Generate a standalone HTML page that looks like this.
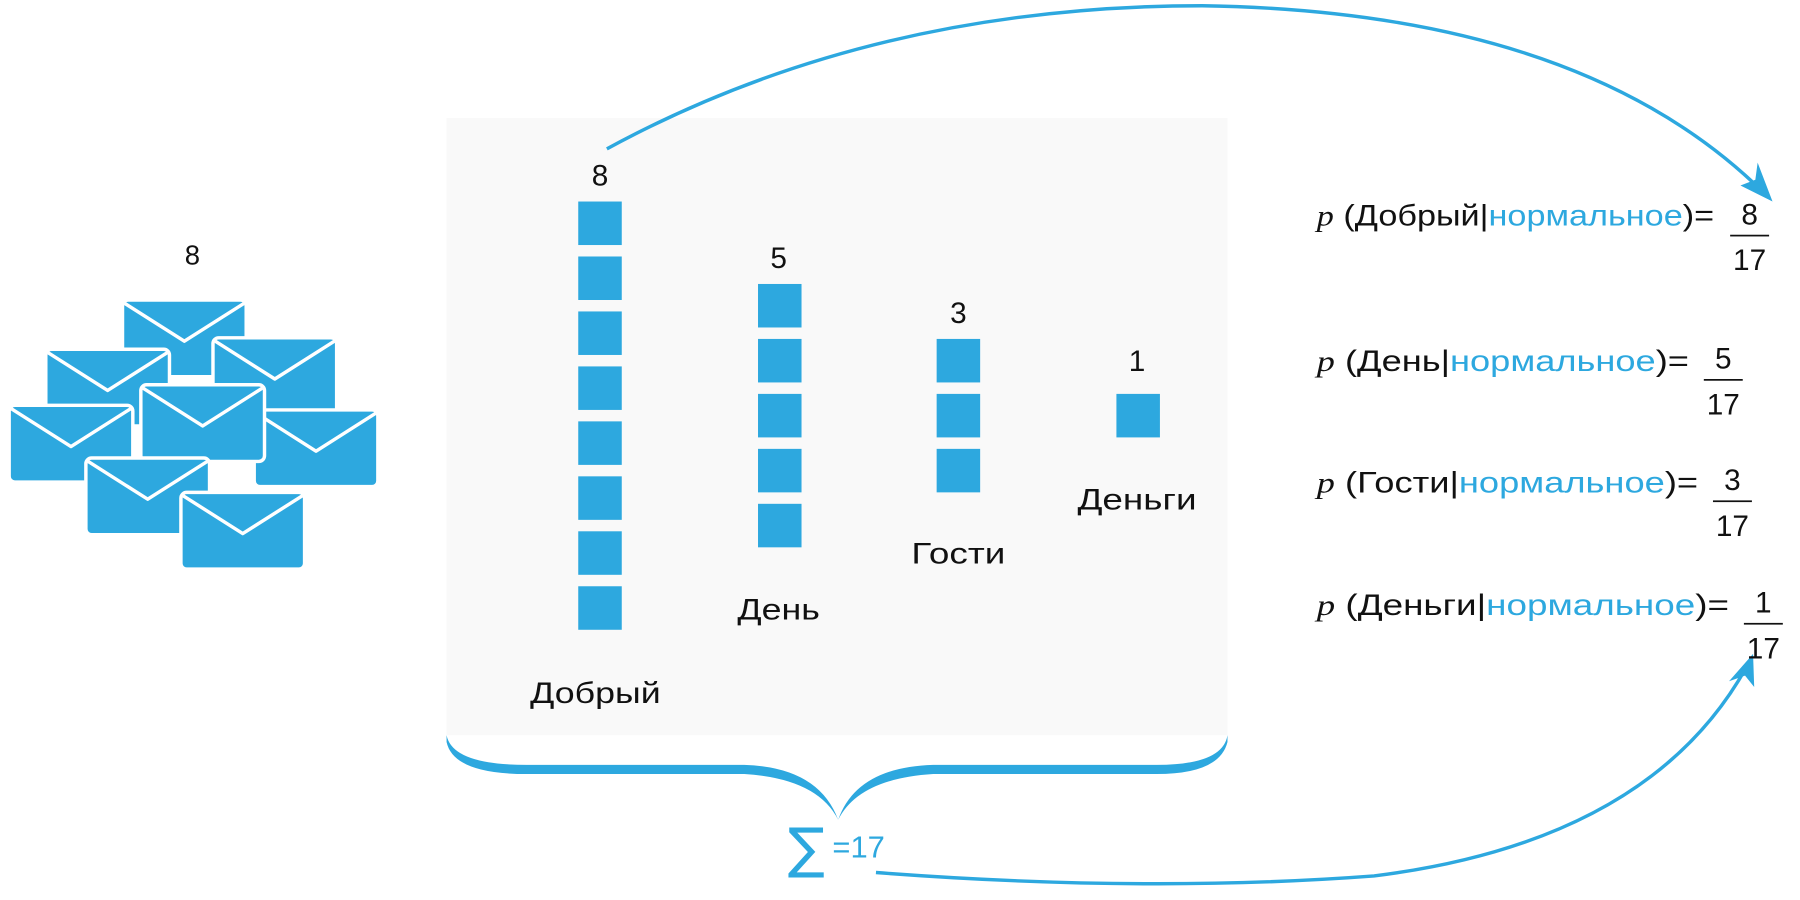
<!DOCTYPE html>
<html><head><meta charset="utf-8"><style>
html,body{margin:0;padding:0;background:#fff;width:1800px;height:900px;overflow:hidden}
svg{display:block}
text{font-family:"Liberation Sans",sans-serif;fill:#111}
</style></head><body>
<svg width="1800" height="900" viewBox="0 0 1572 786" xmlns="http://www.w3.org/2000/svg">
<defs>
<g id="env">
<rect x="0" y="0" width="108" height="67" rx="5" fill="#2da8df" stroke="#fff" stroke-width="3"/>
<path d="M2 3 L54 36 L106 3" fill="none" stroke="#fff" stroke-width="3" stroke-linejoin="round"/>
</g>
</defs>
<rect x="390" y="103" width="682" height="539" fill="#f9f9f9"/>
<!-- brace -->
<path d="M390 642 Q395 668 460 668 L650 668 Q715 670 732 716 Q748 670 815 668 L1010 668 Q1068 668 1072 642 L1072 648 Q1065 676 1010 676 L815 676 Q750 680 732 716 Q714 680 650 676 L460 676 Q396 676 390 648 Z" fill="#2da8df"/>
<!-- envelopes -->
<use href="#env" x="107" y="262"/>
<use href="#env" x="40" y="305"/>
<use href="#env" x="186" y="295"/>
<use href="#env" x="222" y="358"/>
<use href="#env" x="123" y="336"/>
<use href="#env" x="8" y="354"/>
<use href="#env" x="75" y="400"/>
<use href="#env" x="158" y="430"/>
<text x="168" y="231" font-size="24" text-anchor="middle">8</text>
<!-- bars -->
<g fill="#2da8df">
<rect x="505" y="176" width="38" height="38"/><rect x="505" y="224" width="38" height="38"/><rect x="505" y="272" width="38" height="38"/><rect x="505" y="320" width="38" height="38"/><rect x="505" y="368" width="38" height="38"/><rect x="505" y="416" width="38" height="38"/><rect x="505" y="464" width="38" height="38"/><rect x="505" y="512" width="38" height="38"/>
<rect x="662" y="248" width="38" height="38"/><rect x="662" y="296" width="38" height="38"/><rect x="662" y="344" width="38" height="38"/><rect x="662" y="392" width="38" height="38"/><rect x="662" y="440" width="38" height="38"/>
<rect x="818" y="296" width="38" height="38"/><rect x="818" y="344" width="38" height="38"/><rect x="818" y="392" width="38" height="38"/>
<rect x="975" y="344" width="38" height="38"/>
</g>
<g font-size="26" text-anchor="middle">
<text x="524" y="162">8</text><text x="520" y="614" textLength="114" lengthAdjust="spacingAndGlyphs">Добрый</text>
<text x="680" y="234">5</text><text x="680" y="541" textLength="72" lengthAdjust="spacingAndGlyphs">День</text>
<text x="837" y="282">3</text><text x="837" y="492" textLength="82" lengthAdjust="spacingAndGlyphs">Гости</text>
<text x="993" y="324">1</text><text x="993" y="445" textLength="104" lengthAdjust="spacingAndGlyphs">Деньги</text>
</g>
<!-- sum -->
<text x="688" y="757" font-size="48" style="fill:#2da8df;font-family:'DejaVu Sans',sans-serif">∑</text>
<text x="727" y="749" font-size="27" style="fill:#2da8df">=17</text>
<!-- arrows -->
<path d="M530 130 Q760 5 1050 5 Q1380 10 1540 168" fill="none" stroke="#2da8df" stroke-width="3"/>
<polygon points="1548,176 1520,162 1533,157 1535,142" fill="#2da8df"/>
<path d="M765 762 Q1000 780 1200 765 Q1440 735 1525 583" fill="none" stroke="#2da8df" stroke-width="3"/>
<polygon points="1531,571 1532,600 1524,590 1510,595" fill="#2da8df"/>
<!-- formulas -->
<g font-size="26">
<text x="1150" y="197" textLength="347" lengthAdjust="spacingAndGlyphs"><tspan style="font-family:'Liberation Serif',serif;font-style:italic">p</tspan> (Добрый|<tspan style="fill:#2da8df">нормальное</tspan>)=</text>
<text x="1528" y="196" text-anchor="middle">8</text><rect x="1511" y="205" width="34" height="1.5" fill="#111"/><text x="1528" y="236" text-anchor="middle">17</text>
<text x="1150" y="324" textLength="325" lengthAdjust="spacingAndGlyphs"><tspan style="font-family:'Liberation Serif',serif;font-style:italic">p</tspan> (День|<tspan style="fill:#2da8df">нормальное</tspan>)=</text>
<text x="1505" y="322" text-anchor="middle">5</text><rect x="1488" y="331" width="34" height="1.5" fill="#111"/><text x="1505" y="362" text-anchor="middle">17</text>
<text x="1150" y="430" textLength="333" lengthAdjust="spacingAndGlyphs"><tspan style="font-family:'Liberation Serif',serif;font-style:italic">p</tspan> (Гости|<tspan style="fill:#2da8df">нормальное</tspan>)=</text>
<text x="1513" y="428" text-anchor="middle">3</text><rect x="1496" y="437" width="34" height="1.5" fill="#111"/><text x="1513" y="468" text-anchor="middle">17</text>
<text x="1150" y="537" textLength="360" lengthAdjust="spacingAndGlyphs"><tspan style="font-family:'Liberation Serif',serif;font-style:italic">p</tspan> (Деньги|<tspan style="fill:#2da8df">нормальное</tspan>)=</text>
<text x="1540" y="535" text-anchor="middle">1</text><rect x="1523" y="544" width="34" height="1.5" fill="#111"/><text x="1540" y="575" text-anchor="middle">17</text>
</g>
</svg>
</body></html>
